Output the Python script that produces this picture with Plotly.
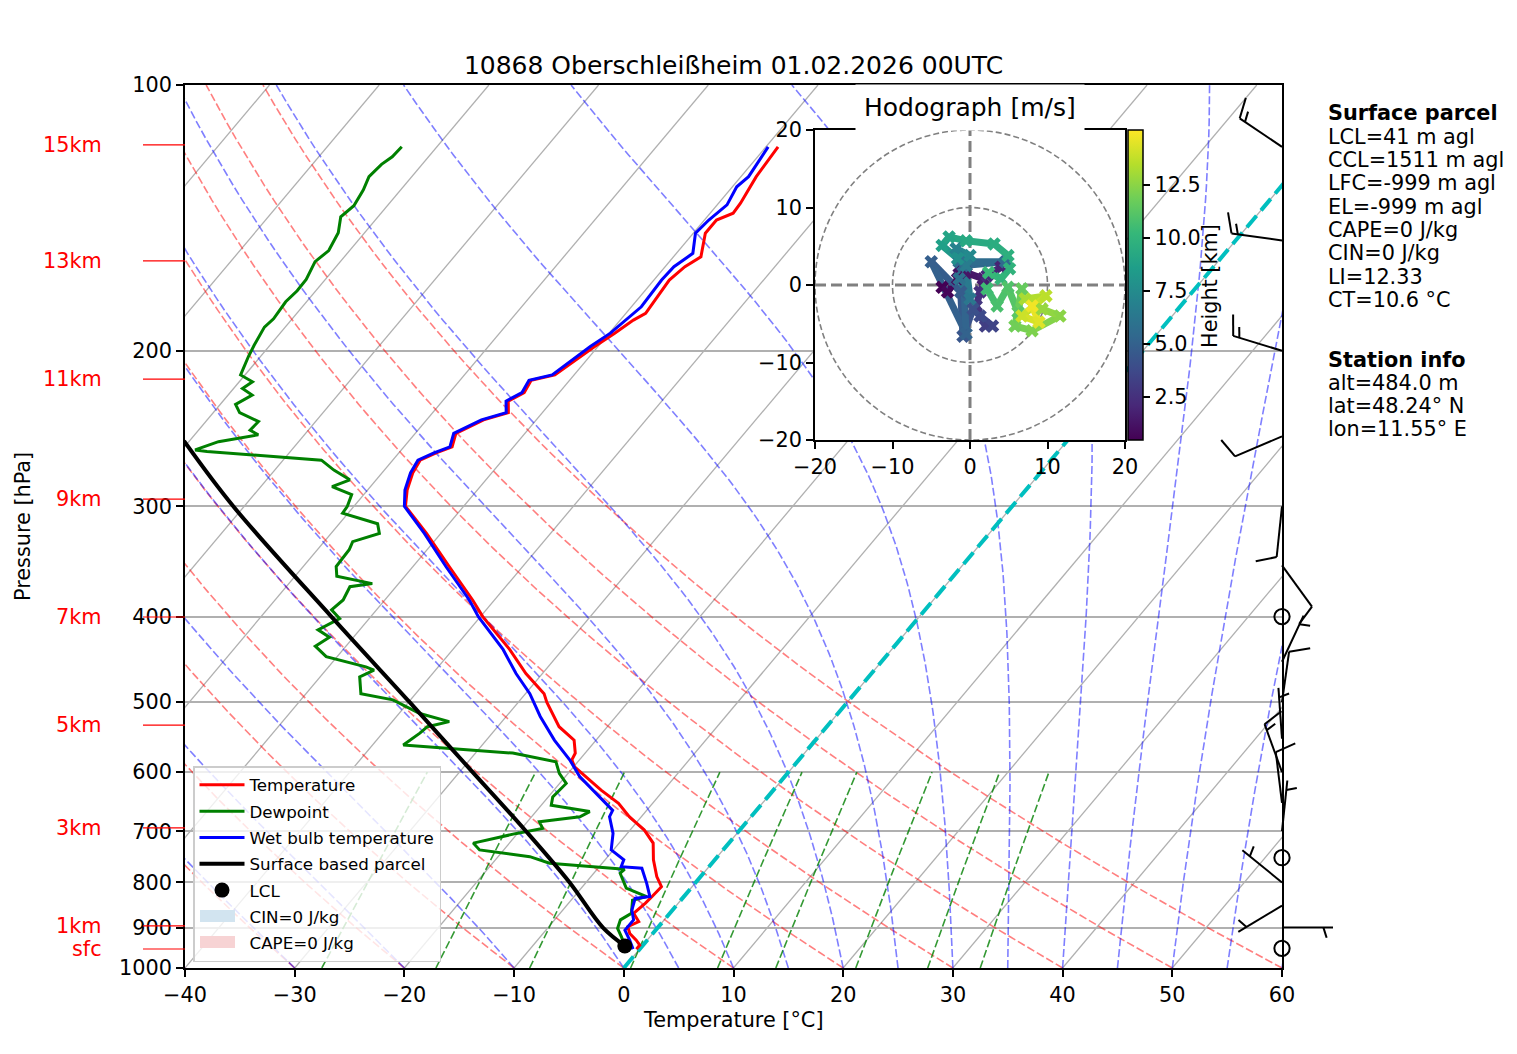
import numpy as np
import plotly.graph_objects as go
from plotly.colors import sample_colorscale

W, H = 1517, 1054
SKEW = 67.7          # degC shift of an isotherm per pressure decade
FONT = "DejaVu Sans"

# ---- sounding 10868 Oberschleissheim ----
# temperature [hPa], [degC]
t_p = [952, 942, 930, 914, 898, 886, 867, 845, 830, 809, 788, 754, 722, 698, 674, 651, 629, 607, 592, 581,
       571, 552, 533, 500, 489, 464, 436, 400, 383, 351, 322, 300, 287.5, 275, 266, 261, 257, 248, 239.5, 235,
       228, 223, 216, 213, 206.6, 197.8, 191, 184.6, 181.4, 166.3, 160.6, 156.5, 147.2, 142.2, 139.7, 136.1, 127, 117.5]
t_c = [-0.3, -0.3, -1.0, -2.1, -2.8, -2.2, -3.3, -3.0, -2.9, -2.8, -4.0, -5.6, -6.9, -8.7, -11.1, -13.1, -15.7, -18.2, -19.9, -20.7,
       -20.9, -22.0, -24.4, -27.4, -28.3, -31.5, -34.8, -39.8, -42.0, -46.7, -51.3, -55.3, -56.4, -57.2, -57.5, -56.6, -55.6, -56.3, -54.8, -53.1,
       -54.0, -53.2, -53.5, -51.75, -51.2, -50.3, -49.5, -48.8, -48.2, -48.6, -48.2, -47.5, -48.9, -48.9, -47.9, -48.0, -48.6, -48.9]

# wet bulb temperature
tw_p = [952, 930, 906, 882, 860, 834, 830, 802, 771, 768, 754, 735, 704, 674, 663, 634, 607, 581, 552, 519,
        489, 464, 436, 400, 383, 351, 322, 300, 287.5, 275, 266, 261, 257, 248, 239.5, 235, 228, 223, 216, 213,
        206.6, 197.8, 191, 184.6, 178.3, 166.3, 160.6, 155.1, 147.2, 142.2, 136.7, 130.4, 127, 117.5]
tw_c = [-0.6, -1.6, -2.8, -2.8, -3.7, -4.3, -3.1, -4.4, -6.0, -8.0, -8.3, -10.2, -11.3, -12.9, -13.1, -15.9, -18.7, -20.9, -23.8, -26.9,
        -29.6, -32.4, -35.4, -40.2, -42.3, -47.0, -51.5, -55.4, -56.6, -57.4, -57.7, -56.8, -55.8, -56.5, -55.0, -53.3, -54.2, -53.4, -53.7, -52.0,
        -51.5, -50.7, -49.9, -49.5, -49.1, -49.3, -49.2, -48.5, -49.8, -49.6, -49.1, -49.6, -49.3, -49.8]

# dewpoint
td_p = [952, 946, 922, 902, 882, 867, 838, 830, 812, 795, 781, 773, 768, 761, 748, 735, 722, 704, 695, 683,
        674, 665, 654, 640, 618, 602, 584, 571, 559, 542, 533, 526, 515, 497, 489, 468, 460, 456, 444, 432,
        422, 414, 402, 393, 383, 370, 367, 360, 351, 336, 329, 322, 314, 305.5, 300, 291, 285, 280, 273, 266,
        260, 259, 253.5, 249, 246, 240.5, 235, 230, 224.5, 220.6, 216.8, 213, 203, 197, 188, 184, 176, 171, 166, 158.5,
        154, 147, 141, 137, 131.5, 127, 123, 120.6, 117.5]
td_c = [-1.6, -1.5, -2.6, -3.6, -4.0, -3.5, -4.4, -3.4, -5.9, -6.8, -7.6, -7.5, -10.3, -14.8, -17.1, -22.2, -23.3, -20.1, -18.1, -18.9,
        -15.6, -15.1, -19.1, -19.6, -19.4, -20.8, -22.0, -26.6, -37.2, -36.6, -36.4, -34.8, -38.1, -41.6, -45.0, -46.4, -45.6, -46.6, -51.0, -52.8,
        -52.2, -53.8, -52.7, -54.1, -53.8, -54.2, -52.4, -56.2, -57.0, -57.1, -57.4, -55.6, -56.5, -60.5, -60.6, -61.1, -63.5, -62.4, -64.6, -66.5,
        -77.6, -78.8, -77.3, -74.2, -75.3, -75.2, -77.6, -78.6, -77.8, -79.2, -78.8, -80.4, -81.1, -81.45, -81.9, -81.7, -81.9, -81.7, -81.75, -82.3,
        -81.9, -82.4, -83.4, -83.05, -83.4, -83.9, -83.7, -83.3, -83.2]

# surface based parcel and LCL
parcel_p = [944, 900, 800, 700, 600, 500, 400, 300, 253]
parcel_c = [-1.6, -5.0, -11.5, -19.4, -28.8, -39.9, -53.6, -71.0, -80.5]
lcl_p = [944]
lcl_c = [-1.6]

# height marks (left side)
hgt_p = [951.6, 896, 694, 530.7, 400.4, 294.4, 215.3, 158.2, 116.9]
hgt_lbl = ["sfc", "1km", "3km", "5km", "7km", "9km", "11km", "13km", "15km"]

# wind barbs: pressure [hPa], speed [kt], direction [deg]
barb_p = [117.5, 150, 200, 250, 300, 350, 400, 450, 500, 550, 600, 650, 700, 750, 800, 850, 900, 950]
barb_kt = [15, 15, 15, 10, 10, 10, 0, 5, 10, 5, 15, 10, 5, 0, 5, 5, 5, 0]
barb_dir = [304, 278, 287, 247, 186, 144, 0, 25, 8, 356, 340, 353, 6, 0, 309, 239, 90, 0]

# hodograph: u, v [m/s], height [km]
hodo_u = [-3.6, -2.9, -1.6, -1.4, -0.5, 1.7, 4.0, 2.2, 1.3, 0.8, 2.0, 2.9, 1.3, 0.4, -0.9, -1.2, -5.0, -0.5, -0.9, 4.6,
          -1.4, -1.4, 0.0, -0.5, -1.8, 0.0, -1.6, -3.6, -2.7, -0.5, 3.1, 4.9, 5.1, 4.0, 2.4, 2.2, 3.5, 4.9, 6.2, 6.7,
          5.8, 8.0, 11.6, 9.3, 7.1, 9.8, 6.7, 8.9, 8.0]
hodo_v = [-0.3, -0.9, 0.8, 2.3, 1.6, 0.8, 2.3, 1.2, -0.9, -2.7, -5.3, -5.3, -4.0, -3.1, -6.6, -0.9, 3.0, -6.3, 2.5, 3.0,
          3.0, 0.8, -1.8, 2.5, 4.7, 3.8, 3.4, 5.1, 6.2, 5.7, 5.3, 3.8, 2.1, 0.8, 1.6, -0.5, -2.7, -0.3, -3.5, -0.5,
          -5.3, -5.9, -4.0, -3.1, -1.8, -1.4, -4.0, -4.8, -2.7]
hodo_z = [0.5, 0.7, 0.9, 1.1, 1.3, 1.6, 1.9, 2.2, 2.5, 2.8, 3.2, 3.5, 3.8, 4.1, 4.4, 4.7, 4.9, 5.1, 5.3, 5.5,
          5.7, 6.0, 6.3, 6.6, 7.0, 7.4, 7.8, 8.7, 9.0, 9.3, 9.5, 9.7, 9.9, 10.1, 10.3, 10.5, 10.8, 11.0, 11.3, 11.6,
          11.9, 12.2, 12.5, 12.8, 13.2, 13.6, 14.0, 14.4, 14.8]
hodo_zmin, hodo_zmax = 0.48, 15.1

p_ticks = [100, 200, 300, 400, 500, 600, 700, 800, 900, 1000]
t_ticks = list(range(-40, 61, 10))

# start temperatures of the background lines
iso_c = list(range(-100, 61, 10))
dry_c = list(range(-40, 61, 10))
moist_c = [-40, -30, -20, -10] + list(range(0, 61, 5))
mix_w = [0.0004, 0.001, 0.002, 0.004, 0.007, 0.01, 0.016, 0.024, 0.032]

parcel_info = ["LCL=41 m agl", "CCL=1511 m agl", "LFC=-999 m agl", "EL=-999 m agl",
               "CAPE=0 J/kg", "CIN=0 J/kg", "LI=12.33", "CT=10.6 °C"]
station_info = ["alt=484.0 m", "lat=48.24° N", "lon=11.55° E"]

# ---- layout geometry ----
X0, X1 = 185 / W, 1282 / W
Y0, Y1 = 1 - 968 / H, 1 - 85 / H
HX0, HX1 = 815 / W, 1125 / W
HY0, HY1 = 1 - 440 / H, 1 - 130 / H
PPD = (Y1 - Y0) * H   # pixels per pressure decade
LEG_TOP = 766         # legend box top, px


def skx(t, p):
    return np.asarray(t, float) + SKEW * (3 - np.log10(np.asarray(p, float)))


def moist_adiabat(t0, p):
    rd, lv, cp, eps = 287.04749, 2.50084e6, 1004.6662, 0.621957

    def dtdp(pp, t):
        es = 6.112 * np.exp(17.67 * (t - 273.15) / (t - 29.65))
        rs = eps * es / (pp - es)
        return (rd * t + lv * rs) / (cp + lv * lv * rs * eps / (rd * t * t)) / pp

    t = t0 + 273.15
    out = [t]
    for i in range(1, len(p)):
        h = p[i] - p[i - 1]
        k1 = dtdp(p[i - 1], t)
        k2 = dtdp(p[i - 1] + h / 2, t + h * k1 / 2)
        k3 = dtdp(p[i - 1] + h / 2, t + h * k2 / 2)
        k4 = dtdp(p[i], t + h * k3)
        t = t + h * (k1 + 2 * k2 + 2 * k3 + k4) / 6
        out.append(t)
    return np.array(out) - 273.15


def family(curves, color, width, dash):
    xs, ys = [], []
    for t, p in curves:
        xs += list(skx(t, p)) + [None]
        ys += list(np.log10(p)) + [None]
    return go.Scatter(x=xs, y=ys, mode="lines", line=dict(color=color, width=width, dash=dash),
                      showlegend=False, hoverinfo="skip")


fig = go.Figure()

p_full = np.linspace(1000, 100, 181)
p_mix = np.linspace(1000, 600, 41)

fig.add_trace(family([(np.array([t, t]), np.array([1000.0, 100.0])) for t in iso_c], "#b0b0b0", 1.3, "solid"))
fig.add_trace(family([((t + 273.15) * (p_full / 1000) ** 0.2857 - 273.15, p_full) for t in dry_c],
                     "rgba(255,0,0,0.5)", 1.6, "8px,3px"))
fig.add_trace(family([(moist_adiabat(t, p_full), p_full) for t in moist_c],
                     "rgba(0,0,255,0.5)", 1.6, "8px,3px"))
mix_curves = []
for w in mix_w:
    e = p_mix * w / (0.621957 + w)
    a = np.log(e / 6.112)
    mix_curves.append((243.5 * a / (17.67 - a), p_mix))
fig.add_trace(family(mix_curves, "rgba(0,128,0,0.8)", 1.6, "8px,3px"))
fig.add_trace(family([(np.array([0.0, 0.0]), np.array([1000.0, 100.0]))], "#00bfbf", 4, "15px,7px"))

# profiles
fig.add_trace(go.Scatter(x=skx(t_c, t_p), y=np.log10(t_p), mode="lines", name="Temperature",
                         line=dict(color="red", width=3), legendgroup="a"))
fig.add_trace(go.Scatter(x=skx(td_c, td_p), y=np.log10(td_p), mode="lines", name="Dewpoint",
                         line=dict(color="green", width=3), legendgroup="b"))
fig.add_trace(go.Scatter(x=skx(tw_c, tw_p), y=np.log10(tw_p), mode="lines", name="Wet bulb temperature",
                         line=dict(color="blue", width=3), legendgroup="c"))
fig.add_trace(go.Scatter(x=skx(parcel_c, parcel_p), y=np.log10(parcel_p), mode="lines", name="Surface based parcel",
                         line=dict(color="black", width=4, shape="spline"), legendgroup="d"))
fig.add_trace(go.Scatter(x=skx(lcl_c, lcl_p), y=np.log10(lcl_p), mode="markers", name="LCL",
                         marker=dict(color="black", size=15), legendgroup="e"))
# CIN / CAPE entries: swatches are drawn as shapes below the legend
fig.add_trace(go.Scatter(x=[None], y=[None], mode="lines", line=dict(width=0, color="rgba(0,0,0,0)"),
                         name="CIN=0 J/kg", legendgroup="f"))
fig.add_trace(go.Scatter(x=[None], y=[None], mode="lines", line=dict(width=0, color="rgba(0,0,0,0)"),
                         name="CAPE=0 J/kg", legendgroup="g"))

# hodograph
span = hodo_zmax - hodo_zmin
for i in range(len(hodo_u) - 1):
    zc = 0.5 * (hodo_z[i] + hodo_z[i + 1])
    col = sample_colorscale("Viridis", [(zc - hodo_zmin) / span])[0]
    fig.add_trace(go.Scatter(x=hodo_u[i:i + 2], y=hodo_v[i:i + 2], mode="lines", xaxis="x2", yaxis="y2",
                             line=dict(color=col, width=7), showlegend=False, hoverinfo="skip"))
fig.add_trace(go.Scatter(
    x=hodo_u, y=hodo_v, mode="markers", xaxis="x2", yaxis="y2", showlegend=False, hoverinfo="skip",
    marker=dict(symbol="x", size=12, color=hodo_z, colorscale="Viridis", cmin=hodo_zmin, cmax=hodo_zmax,
                line=dict(width=0), showscale=True,
                colorbar=dict(x=1128 / W, xanchor="left", y=(HY0 + HY1) / 2, yanchor="middle",
                              len=HY1 - HY0, lenmode="fraction", thickness=15, xpad=0, ypad=0,
                              outlinewidth=1.5, outlinecolor="black",
                              tickvals=[2.5, 5, 7.5, 10, 12.5], ticktext=["2.5", "5.0", "7.5", "10.0", "12.5"],
                              ticks="outside", ticklen=7, tickwidth=1.5, tickcolor="black",
                              tickfont=dict(size=20.8, color="black", family=FONT)))))

shapes = []
# hodograph rings and cross
for r in (10, 20):
    shapes.append(dict(type="circle", xref="x2", yref="y2", x0=-r, x1=r, y0=-r, y1=r, layer="below",
                       line=dict(color="gray", width=1.6, dash="6px,3px")))
shapes.append(dict(type="line", xref="x2", yref="y2", x0=-20, x1=20, y0=0, y1=0, layer="below",
                   line=dict(color="gray", width=3, dash="11px,5px")))
shapes.append(dict(type="line", xref="x2", yref="y2", x0=0, x1=0, y0=-20, y1=20, layer="below",
                   line=dict(color="gray", width=3, dash="11px,5px")))

# height marks
for p in hgt_p:
    shapes.append(dict(type="line", xref="paper", yref="y", x0=143 / W, x1=X0, y0=np.log10(p), y1=np.log10(p),
                       line=dict(color="red", width=1.2)))

# legend swatches for CIN / CAPE (seen through the 80% white legend box)
for yc, col in ((916, "rgb(31,119,180)"), (942, "rgb(214,39,40)")):
    shapes.append(dict(type="rect", xref="paper", yref="paper", x0=200 / W, x1=235 / W,
                       y0=1 - (yc + 6) / H, y1=1 - (yc - 6) / H, line=dict(width=0), fillcolor=col))

# wind barbs (staff length in px, drawn at the right edge)
L = 51.0
sp = 0.125 * L
for p, kt, d in zip(barb_p, barb_kt, barb_dir):
    yb = np.log10(p)

    def pt(dx, dy):
        return X1 + dx / W, yb - dy / PPD

    if kt < 2.5:
        r = 0.15 * L
        shapes.append(dict(type="circle", xref="paper", yref="y", x0=X1 - r / W, x1=X1 + r / W,
                           y0=yb - r / PPD, y1=yb + r / PPD, line=dict(color="black", width=2)))
        continue
    th = np.radians(d)
    ax_, ay_ = np.sin(th), np.cos(th)
    px_, py_ = ay_, -ax_
    segs = [((0, 0), (L * ax_, L * ay_))]
    n_full = int(kt // 10)
    half = (kt % 10) >= 5
    off = L
    for _ in range(n_full):
        s = (off * ax_, off * ay_)
        segs.append((s, (s[0] + 0.4 * L * px_ + 0.125 * L * ax_, s[1] + 0.4 * L * py_ + 0.125 * L * ay_)))
        off -= sp
    if half:
        if n_full == 0:
            off -= 1.5 * sp
        s = (off * ax_, off * ay_)
        segs.append((s, (s[0] + 0.2 * L * px_ + 0.0625 * L * ax_, s[1] + 0.2 * L * py_ + 0.0625 * L * ay_)))
    for a, b in segs:
        xa, ya = pt(*a)
        xb, yb2 = pt(*b)
        shapes.append(dict(type="line", xref="paper", yref="y", x0=xa, y0=ya, x1=xb, y1=yb2,
                           line=dict(color="black", width=2)))

ann = []
for p, lbl in zip(hgt_p, hgt_lbl):
    ann.append(dict(text=lbl, xref="paper", yref="y", x=104 / W, y=np.log10(p), xanchor="right",
                    yanchor="middle", showarrow=False, font=dict(color="red", size=20.8)))
ann.append(dict(text="Pressure [hPa]", xref="paper", yref="paper", x=23 / W, y=1 - 527 / H, textangle=-90,
                showarrow=False, xanchor="center", yanchor="middle", font=dict(size=20.8)))
ann.append(dict(text="Temperature [°C]", xref="paper", yref="paper", x=(X0 + X1) / 2, y=1 - 1020 / H,
                showarrow=False, xanchor="center", yanchor="middle", font=dict(size=20.8)))
ann.append(dict(text="Hodograph [m/s]", xref="paper", yref="paper", x=(HX0 + HX1) / 2, y=1 - 108 / H,
                showarrow=False, xanchor="center", yanchor="middle", font=dict(size=25),
                bgcolor="white", borderpad=8))
ann.append(dict(text="Height [km]", xref="paper", yref="paper", x=1210 / W, y=1 - 286 / H, textangle=-90,
                showarrow=False, xanchor="center", yanchor="middle", font=dict(size=20.8)))
lines = ["<b>Surface parcel</b>"] + parcel_info
for i, s in enumerate(lines):
    ann.append(dict(text=s, xref="paper", yref="paper", x=1326 / W, y=1 - (113.5 + 23.3 * i) / H,
                    xanchor="left", yanchor="middle", showarrow=False, font=dict(size=20.8)))
lines = ["<b>Station info</b>"] + station_info
for i, s in enumerate(lines):
    ann.append(dict(text=s, xref="paper", yref="paper", x=1326 / W, y=1 - (359.5 + 23.3 * i) / H,
                    xanchor="left", yanchor="middle", showarrow=False, font=dict(size=20.8)))

axis_common = dict(ticks="outside", ticklen=7, tickwidth=1.7, tickcolor="black", showline=True, linewidth=1.7,
                   linecolor="black", mirror=True, zeroline=False, automargin=False,
                   tickfont=dict(size=20.8, color="black"))

fig.update_layout(
    width=W, height=H, margin=dict(l=0, r=0, t=0, b=0, autoexpand=False),
    paper_bgcolor="white", plot_bgcolor="white", hovermode=False,
    font=dict(family=FONT, size=20.8, color="black"),
    title=dict(text="10868 Oberschleißheim 01.02.2026 00UTC", x=(X0 + X1) / 2, xanchor="center",
               y=1 - 65 / H, yanchor="middle", font=dict(size=25, color="black")),
    xaxis=dict(domain=[X0, X1], range=[-40, 60], tickvals=t_ticks, showgrid=False, anchor="y", **axis_common),
    yaxis=dict(domain=[Y0, Y1], range=[3, 2], tickvals=list(np.log10(p_ticks)), ticktext=[str(p) for p in p_ticks],
               showgrid=True, gridcolor="#b0b0b0", gridwidth=1.7, anchor="x", **axis_common),
    xaxis2=dict(domain=[HX0, HX1], range=[-20, 20], tickvals=[-20, -10, 0, 10, 20], showgrid=False,
                anchor="y2", **axis_common),
    yaxis2=dict(domain=[HY0, HY1], range=[-20, 20], tickvals=[-20, -10, 0, 10, 20], showgrid=False,
                anchor="x2", **axis_common),
    legend=dict(x=193 / W, y=1 - LEG_TOP / H, xanchor="left", yanchor="top", bgcolor="rgba(255,255,255,0.8)",
                bordercolor="#cccccc", borderwidth=1.5, font=dict(size=16.7), tracegroupgap=1.6,
                itemwidth=45, traceorder="grouped"),
    shapes=shapes, annotations=ann,
)

fig.write_html("out.html", config={"displayModeBar": False},
               post_script="document.body.style.margin='0px';")
